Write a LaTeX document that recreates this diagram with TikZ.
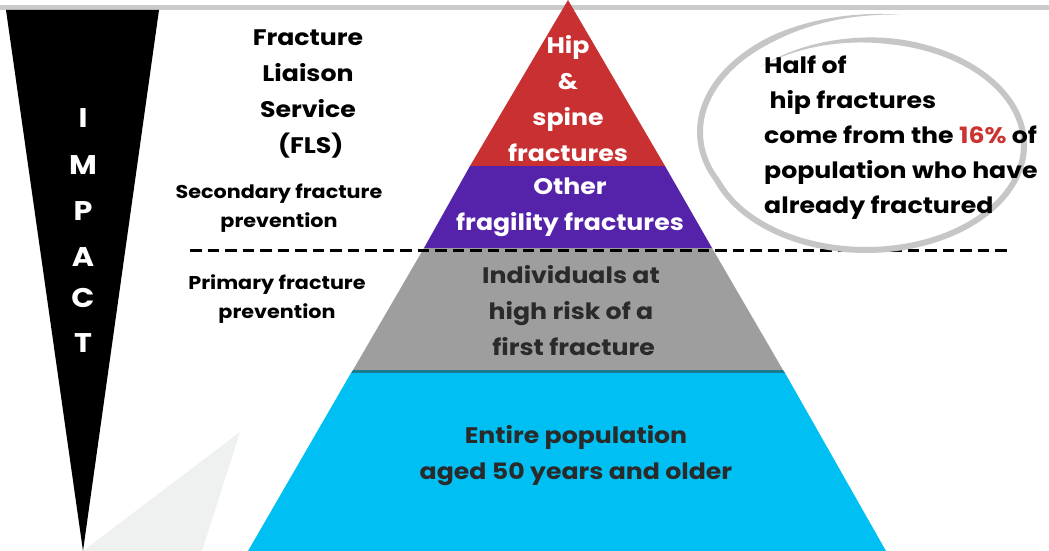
\documentclass[tikz,border=0pt]{standalone}
\usepackage{fontspec}
\setmainfont{Poppins}[FakeStretch=1.12]
\definecolor{topline}{HTML}{C9CBCB}
\definecolor{pred}{HTML}{C93032}
\definecolor{ppurple}{HTML}{5423A9}
\definecolor{pgray}{HTML}{9E9E9E}
\definecolor{pteal}{HTML}{1B7A90}
\definecolor{pblue}{HTML}{00C0F3}
\definecolor{lightshade}{HTML}{EFF0F0}
\definecolor{swooshgray}{HTML}{C6C6C6}
\definecolor{darktext}{HTML}{2A2A2A}
\definecolor{hl}{HTML}{CC3333}
\tikzset{
  big/.style={font=\fontsize{22.5}{36}\selectfont\bfseries, align=center, inner sep=0pt},
  small/.style={font=\fontsize{18.5}{29}\selectfont\bfseries, align=center, inner sep=0pt},
  impact/.style={font=\fontsize{27}{28}\selectfont\bfseries, text=white, inner sep=0pt},
}
\begin{document}
\begin{tikzpicture}[x=1pt,y=-1pt,
  declare function={sc(\t)=1+0.26*max(0,(200-\t)/120); wd(\t)=6*min(1,min((\t-80)/40,(492-\t)/50));}]
\useasboundingbox (0,0) rectangle (1049,551);
\fill[white] (0,0) rectangle (1049,551);
% top line
\fill[topline] (0,5) rectangle (1049,10);
% light shade triangle
\fill[lightshade] (83,551) -- (240,432) -- (202,551) -- cycle;
% IMPACT funnel
\fill[black] (6,10) -- (159,10) -- (83,551) -- cycle;
\node[impact] (i1) at (83,118) {I};
\node[impact] (i2) at (83,165) {M};
\node[impact] (i3) at (83,211) {P};
\node[impact] (i4) at (83,257) {A};
\node[impact] (i5) at (83,298) {C};
\node[impact] (i6) at (83,343) {T};
% pyramid
\fill[pred] (568,0) -- (665,166) -- (470,166) -- cycle;
\fill[ppurple] (470,166) -- (665,166) -- (712,248) -- (424,248) -- cycle;
\fill[pgray] (424,248) -- (712,248) -- (783,370) -- (353,370) -- cycle;
\fill[pteal] (353,370) -- (783,370) -- (785,373) -- (351,373) -- cycle;
\fill[pblue] (351,373) -- (785,373) -- (886,551) -- (248,551) -- cycle;
% dashed divider
\coordinate (dl) at (190,250);
\coordinate (dr) at (1008,250);
\draw[line width=3pt, dash pattern=on 11.5pt off 6pt] (dl) -- (dr);
% swoosh ellipse
\fill[swooshgray]
  plot[domain=80:492, samples=160, smooth, variable=\t]
    ({866+(158*sc(\t)+wd(\t)/2)*cos(\t)}, {145-(105*sc(\t)+wd(\t)/2)*sin(\t)})
  -- plot[domain=492:80, samples=160, smooth, variable=\t]
    ({866+(158*sc(\t)-wd(\t)/2)*cos(\t)}, {145-(105*sc(\t)-wd(\t)/2)*sin(\t)})
  -- cycle;
% left texts
\node[big] (fls) at (308,93.5) {Fracture\\Liaison\\Service\\\ (FLS)};
\node[small] (sec) at (279,208.5) {Secondary fracture\\prevention};
\node[small] (pri) at (277,299) {Primary fracture\\prevention};
% pyramid texts
\node[big, text=white] (hip) at (568,98.5) {Hip\\\&\\spine\\fractures};
\node[big, text=white] (oth) at (570,207) {Other\\fragility fractures};
\node[big, text=darktext] (ind) at (571,311) {Individuals at\\high risk of a\\\ first fracture};
\node[big, text=darktext] (ent) at (576,455.5) {Entire population\\aged 50 years and older};
% right text
\node[big, font=\fontsize{22.5}{35}\selectfont\bfseries, align=left, anchor=north west] (half) at (764,56) {Half of\\\ hip fractures\\come from the \textcolor{hl}{16\%} of\\population who have\\already fractured};
\end{tikzpicture}
\end{document}
